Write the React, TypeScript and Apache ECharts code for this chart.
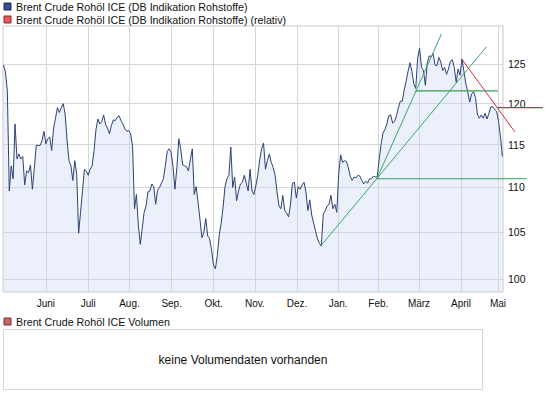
import React, { useEffect, useRef } from "react";
import * as echarts from "echarts";

// Daily closes (one value per trading day)
const prices = [
  124.9, 124.0, 121.6, 109.6, 112.5, 111.0, 117.5, 113.3, 113.9, 113.3,
  113.6, 110.3, 111.9, 111.7, 112.6, 109.8, 112.2, 114.9, 114.9, 114.9,
  115.5, 116.6, 115.1, 115.7, 115.9, 114.3, 117.0, 118.2, 119.5, 118.9,
  119.5, 120.0, 118.7, 115.5, 113.1, 112.5, 110.8, 113.1, 111.5, 104.9,
  107.2, 109.6, 112.1, 111.9, 111.4, 112.1, 112.5, 114.3, 116.8, 118.1,
  117.5, 117.8, 118.6, 117.4, 117.0, 116.3, 117.3, 118.0, 117.9, 118.3,
  118.5, 117.9, 117.5, 116.9, 116.6, 116.7, 116.3, 114.8, 107.6, 109.2,
  105.8, 103.7, 105.4, 107.2, 107.9, 109.5, 109.6, 110.4, 110.1, 108.1,
  109.7, 110.0, 110.5, 111.0, 112.5, 114.2, 114.5, 114.1, 112.4, 109.8,
  112.3, 115.7, 114.5, 112.6, 112.5, 112.4, 111.9, 113.2, 114.5, 109.2,
  110.1, 108.3, 106.4, 104.4, 105.0, 106.5, 104.6, 104.3, 103.1, 101.5,
  101.1, 102.5, 104.7, 106.0, 107.8, 110.1, 111.0, 111.4, 114.7, 110.0,
  111.2, 108.5, 109.6, 110.4, 110.6, 111.4, 110.5, 109.6, 112.1, 109.6,
  109.2, 110.2, 111.4, 113.2, 114.5, 115.2, 112.1, 113.1, 113.9, 112.9,
  112.3, 111.4, 109.5, 107.9, 107.6, 109.1, 107.4, 107.1, 106.7, 108.1,
  110.5, 110.6, 108.8, 110.1, 109.8, 110.3, 110.6, 109.5, 107.4, 108.6,
  106.9, 106.0, 105.1, 104.3, 103.8, 103.5, 107.0, 107.4, 107.9, 108.1,
  109.1, 107.6, 108.1, 107.2, 111.5, 113.8, 112.9, 113.1, 113.0, 112.3,
  111.3, 110.8, 111.2, 111.1, 111.4, 111.3, 110.8, 110.4, 110.7, 110.5,
  111.0, 111.0, 111.3, 111.2, 111.2, 113.2, 115.0, 116.4, 116.8, 117.5,
  118.5, 118.6, 117.6, 117.8, 118.5, 119.5, 120.3, 120.3, 121.7, 122.8,
  124.1, 125.2, 124.1, 122.5, 121.9, 125.8, 127.1, 124.6, 124.2, 122.3,
  125.2, 126.1, 126.0, 126.4, 124.9, 124.8, 125.9, 125.3, 124.2, 124.6,
  123.7, 124.4, 125.4, 125.6, 124.6, 122.7, 124.4, 123.6, 125.7, 124.1,
  122.5, 121.5, 120.2, 121.2, 121.5, 120.8, 118.7, 118.2, 118.6, 118.2,
  118.8, 118.1, 118.8, 119.6, 119.6, 119.3, 119.0, 117.8, 115.9, 113.6,
];

// Month boundaries (trading-day index) and their labels
const monthTicks = [22, 44, 65.4, 87.3, 109.1, 130.5, 152.4, 173.7, 194.6, 215.7, 237.5, 256.7];
const monthLabels = ["Juni", "Juli", "Aug.", "Sep.", "Okt.", "Nov.", "Dez.", "Jan.", "Feb.", "März", "April", "Mai"];
const priceTicks = [100, 105, 110, 115, 120, 125];

// Drawn trend lines: [trading-day index, price]
const supportLow = [[164.6, 103.5], [193.8, 111.0]];
const fanSteep = [[193.8, 111.0], [227.35, 129.0]];
const fanFlat = [[193.8, 111.0], [250.7, 127.3]];
const levelFeb = [[193.8, 111.0], [271.6, 111.0]];
const levelMar = [[213.9, 121.6], [256.7, 121.6]];
const resistance = [[238.0, 125.65], [265.4, 116.55]];
const levelApr = [[256.4, 119.5], [280.0, 119.5]];

const FONT = '"Liberation Sans", Arial, sans-serif';

const X_MIN = -0.26;
const X_MAX = 259.3;
const Y_MIN = 98.69;
const Y_MAX = 130.07;

export default function App() {
  const ref = useRef<HTMLDivElement>(null);
  useEffect(() => {
    const chart = echarts.init(ref.current!, null, { renderer: "svg" });
    const ln = Math.log;
    // wider overlay grid (same scale) so that the drawn lines may run past the plot frame
    const plotW = 545 - 3 - 42;
    const wideW = 545 - 3;
    const wideMax = X_MIN + ((X_MAX - X_MIN) * wideW) / plotW;
    const trend = (pts: number[][], color: string, width = 1) => ({
      type: "line",
      xAxisIndex: 1,
      yAxisIndex: 1,
      data: pts.map(([x, y]) => [x, ln(y)]),
      symbol: "none",
      silent: true,
      z: 4,
      lineStyle: { color, width },
    });
    const labelFor = (v: number) => {
      for (let k = 0; k < monthTicks.length; k++) {
        if (Math.abs(monthTicks[k] - v) < 1e-6) return monthLabels[k];
      }
      return "";
    };
    chart.setOption({
      animation: false,
      backgroundColor: "#ffffff",
      grid: [
        {
          left: 3,
          right: 42,
          top: 26,
          bottom: 106,
          show: true,
          borderColor: "#c9c9c9",
          borderWidth: 1,
          backgroundColor: "transparent",
          outerBoundsMode: "none",
        },
        { left: 3, right: 0, top: 26, bottom: 106, show: false, outerBoundsMode: "none" },
      ],
      xAxis: [
        {
          type: "value",
          gridIndex: 0,
          min: X_MIN,
          max: X_MAX,
          axisLine: { show: false },
          axisTick: { show: false, customValues: monthTicks },
          axisLabel: {
            customValues: monthTicks,
            formatter: labelFor,
            margin: 6,
            fontSize: 10,
            fontFamily: FONT,
            color: "#111",
          },
          splitLine: { show: true, lineStyle: { color: "#d4d6da", width: 1 } },
        },
        {
          type: "value",
          gridIndex: 1,
          min: X_MIN,
          max: wideMax,
          show: false,
          splitLine: { show: false },
        },
      ],
      yAxis: [
        {
          type: "value",
          gridIndex: 0,
          position: "right",
          min: ln(Y_MIN),
          max: ln(Y_MAX),
          axisLine: { show: false },
          axisTick: { show: false, customValues: priceTicks.map(ln) },
          axisLabel: {
            customValues: priceTicks.map(ln),
            formatter: (v: number) => String(Math.round(Math.exp(v))),
            margin: 5,
            fontSize: 10.5,
            fontFamily: FONT,
            color: "#111",
          },
          splitLine: { show: true, lineStyle: { color: "#d4d6da", width: 1 } },
        },
        {
          type: "value",
          gridIndex: 1,
          min: ln(Y_MIN),
          max: ln(Y_MAX),
          show: false,
          splitLine: { show: false },
        },
      ],
      series: [
        {
          type: "line",
          xAxisIndex: 0,
          yAxisIndex: 0,
          data: prices.map((p, i) => [i, ln(p)]),
          symbol: "none",
          z: 3,
          lineStyle: { color: "#2c4275", width: 1 },
          areaStyle: { color: "rgba(200,212,242,0.5)", origin: "start" },
        },
        trend(supportLow, "#3aa86a"),
        trend(fanSteep, "#3aa86a"),
        trend(fanFlat, "#3aa86a"),
        trend(levelFeb, "#2fa060", 1.2),
        trend(levelMar, "#2fa060", 1.2),
        trend(resistance, "#d22a3c"),
        trend(levelApr, "#d22a3c", 1.2),
      ],
      graphic: [
        { type: "rect", shape: { x: 4, y: 3, width: 7, height: 7 }, style: { fill: "#34508f", stroke: "#1c2c55", lineWidth: 1 } },
        { type: "text", x: 16, y: 7, style: { text: "Brent Crude Rohöl ICE (DB Indikation Rohstoffe)", fontSize: 10.7, fontFamily: FONT, fill: "#111", verticalAlign: "middle" } },
        { type: "rect", shape: { x: 4, y: 16, width: 7, height: 7 }, style: { fill: "#e8585a", stroke: "#8a2a2a", lineWidth: 1 } },
        { type: "text", x: 16, y: 20, style: { text: "Brent Crude Rohöl ICE (DB Indikation Rohstoffe) (relativ)", fontSize: 10.7, fontFamily: FONT, fill: "#111", verticalAlign: "middle" } },
        { type: "rect", shape: { x: 4, y: 318, width: 7, height: 7 }, style: { fill: "#c86464", stroke: "#7a3030", lineWidth: 1 } },
        { type: "text", x: 16, y: 322, style: { text: "Brent Crude Rohöl ICE Volumen", fontSize: 10.7, fontFamily: FONT, fill: "#111", verticalAlign: "middle" } },
        { type: "rect", shape: { x: 3.5, y: 329.5, width: 479, height: 60 }, style: { fill: "#ffffff", stroke: "#d6d6d6", lineWidth: 1 } },
        { type: "text", x: 243, y: 359.5, style: { text: "keine Volumendaten vorhanden", fontSize: 12, fontFamily: FONT, fill: "#111", align: "center", verticalAlign: "middle" } },
      ],
    });
    return () => chart.dispose();
  }, []);
  return <div ref={ref} style={{ position: "absolute", left: 0, top: 0, width: 545, height: 398 }} />;
}
